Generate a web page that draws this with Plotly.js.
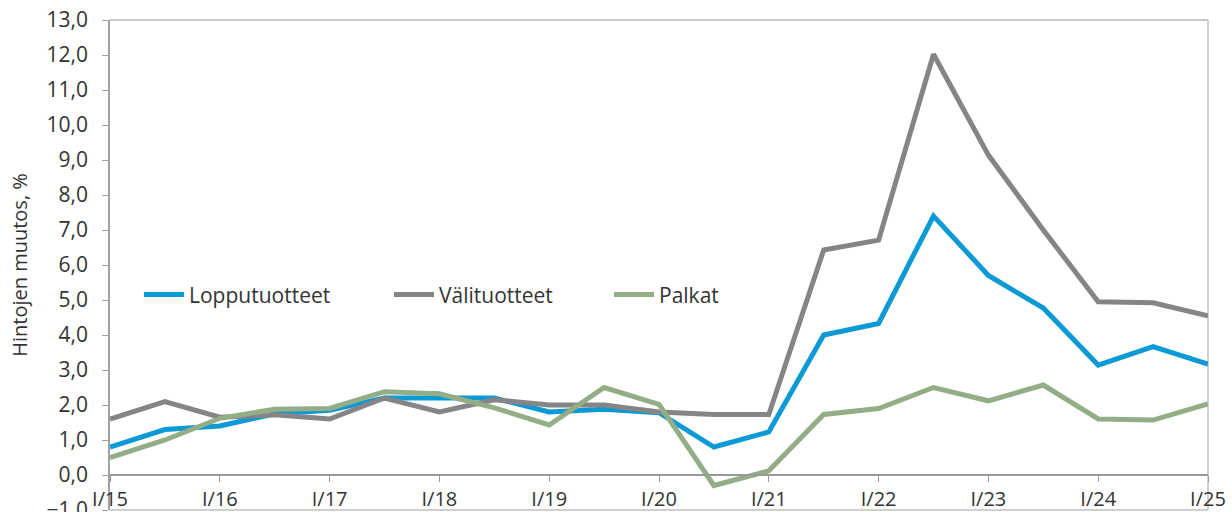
<!DOCTYPE html>
<html>
<head>
<meta charset="utf-8">
<script src="https://cdn.plot.ly/plotly-3.0.1.min.js"></script>
<style>html,body{margin:0;padding:0;background:#fff;}#chart{width:1232px;height:512px;}</style>
</head>
<body>
<div id="chart"></div>
<script>
// Half-year periods I/15 ... I/25
const periods = ["I/15","II/15","I/16","II/16","I/17","II/17","I/18","II/18","I/19","II/19","I/20","II/20","I/21","II/21","I/22","II/22","I/23","II/23","I/24","II/24","I/25"];
const tickLabels = ["I/15","I/16","I/17","I/18","I/19","I/20","I/21","I/22","I/23","I/24","I/25"];

const lopputuotteet = [0.8, 1.3, 1.4, 1.75, 1.85, 2.2, 2.2, 2.2, 1.8, 1.88, 1.78, 0.8, 1.23, 4.0, 4.33, 7.4, 5.7, 4.77, 3.14, 3.67, 3.17];
const valituotteet  = [1.6, 2.1, 1.65, 1.72, 1.6, 2.2, 1.8, 2.15, 2.0, 2.0, 1.8, 1.73, 1.73, 6.43, 6.71, 12.02, 9.14, 7.0, 4.95, 4.92, 4.55];
const palkat        = [0.5, 1.0, 1.62, 1.88, 1.9, 2.38, 2.32, 1.92, 1.43, 2.5, 2.02, -0.3, 0.12, 1.73, 1.9, 2.5, 2.12, 2.57, 1.6, 1.57, 2.03];

const seriesNames = ["Lopputuotteet", "Välituotteet", "Palkat"];
const seriesColors = ["#0b9ad6", "#858585", "#93ae87"];
const seriesValues = [lopputuotteet, valituotteet, palkat];
const legendIds = ["legend", "legend2", "legend3"];

const FONT = "'Open Sans', Lato, sans-serif";
const TXT = "#333333";

const traces = seriesValues.map((vals, i) => ({
  type: "scatter",
  mode: "lines",
  name: seriesNames[i],
  x: periods,
  y: vals,
  legend: legendIds[i],
  line: {color: seriesColors[i], width: 5},
  hoverinfo: "x+y+name"
}));

const tickVals = periods.filter(p => tickLabels.includes(p));

function legendAt(px) {
  return {
    orientation: "h",
    x: (px - 110) / 1098, xanchor: "left",
    y: 0.439, yanchor: "middle",
    font: {family: FONT, size: 21, color: TXT},
    bgcolor: "rgba(0,0,0,0)",
    borderwidth: 0,
    itemwidth: 40
  };
}

const layout = {
  width: 1232,
  height: 512,
  margin: {l: 110, r: 24, t: 20, b: 2},
  paper_bgcolor: "#ffffff",
  plot_bgcolor: "#ffffff",
  separators: ", ",
  font: {family: FONT, color: TXT, size: 20},
  showlegend: true,
  legend: legendAt(139),
  legend2: legendAt(389),
  legend3: legendAt(609),
  xaxis: {
    type: "category",
    range: [0, periods.length - 1],
    tickvals: tickVals,
    ticktext: tickLabels,
    ticks: "outside",
    ticklen: 6,
    tickcolor: "#999999",
    tickwidth: 1,
    showgrid: false,
    zeroline: false,
    showline: true,
    linecolor: "#999999",
    linewidth: 1.5,
    anchor: "free",
    position: 35/490,
    ticklabelstandoff: 0,
    tickfont: {family: FONT, size: 20, color: TXT},
    fixedrange: true
  },
  yaxis: {
    range: [-1, 13],
    dtick: 1,
    tick0: 0,
    tickformat: ".1f",
    ticks: "outside",
    ticklen: 6,
    tickcolor: "#a0a0a0",
    ticklabelstandoff: 10,
    ticklabeloverflow: "allow",
    showgrid: false,
    zeroline: false,
    showline: true,
    linecolor: "#a0a0a0",
    linewidth: 1.5,
    tickfont: {family: FONT, size: 21, color: TXT},
    title: {text: "Hintojen muutos, %", font: {family: FONT, size: 20, color: TXT}, standoff: 14},
    fixedrange: true
  },
  shapes: [
    {type: "line", xref: "paper", yref: "paper", x0: 0, x1: 1, y0: 1, y1: 1, line: {color: "#c8c8c8", width: 2}, layer: "below"},
    {type: "line", xref: "paper", yref: "paper", x0: 1, x1: 1, y0: 0, y1: 1, line: {color: "#c0c0c0", width: 1.5}, layer: "below"},
    {type: "line", xref: "paper", yref: "paper", x0: 0, x1: 1, y0: 0, y1: 0, line: {color: "#c0c0c0", width: 1.5}, layer: "below"}
  ]
};

Plotly.newPlot("chart", traces, layout, {displayModeBar: false});
</script>
</body>
</html>
